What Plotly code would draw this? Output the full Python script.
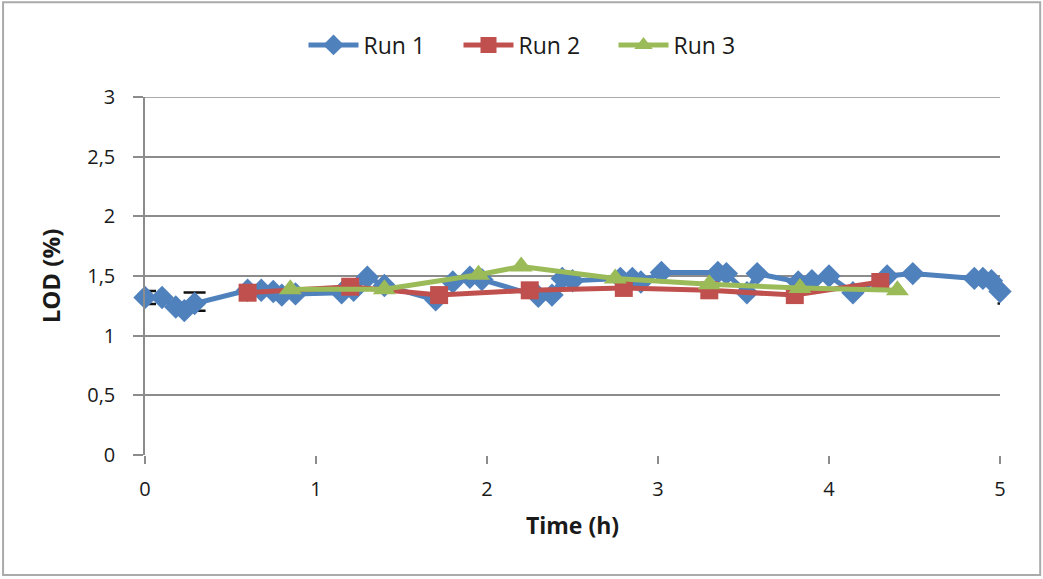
import plotly.graph_objects as go

# Data
run1_x = [0, 0.1, 0.18, 0.23, 0.29, 0.6, 0.68, 0.75, 0.8, 0.88, 1.15, 1.22, 1.3, 1.4,
          1.7, 1.8, 1.9, 1.97, 2.3, 2.38, 2.44, 2.5, 2.78, 2.85, 2.9, 3.02, 3.35, 3.4,
          3.52, 3.58, 3.82, 3.9, 4.0, 4.14, 4.34, 4.49, 4.85, 4.9, 4.95, 5.0]
run1_y = [1.32, 1.32, 1.24, 1.21, 1.27, 1.38, 1.38, 1.37, 1.34, 1.35, 1.36, 1.38, 1.49, 1.42,
          1.30, 1.45, 1.49, 1.47, 1.33, 1.34, 1.48, 1.46, 1.48, 1.48, 1.45, 1.53, 1.53, 1.52,
          1.36, 1.52, 1.45, 1.46, 1.50, 1.36, 1.50, 1.52, 1.48, 1.48, 1.46, 1.37]

run2_x = [0.6, 1.2, 1.72, 2.25, 2.8, 3.3, 3.8, 4.3]
run2_y = [1.36, 1.41, 1.34, 1.38, 1.40, 1.38, 1.34, 1.45]

run3_x = [0.85, 1.4, 1.95, 2.2, 2.75, 3.3, 3.83, 4.4]
run3_y = [1.39, 1.39, 1.51, 1.58, 1.48, 1.43, 1.40, 1.38]

# error bars visible on a few Run 1 points
err_x = [0, 0.29, 5.05]
err_y = [1.32, 1.285, 1.325]
err_v = [0.055, 0.077, 0.055]

y_tickvals = [0, 0.5, 1, 1.5, 2, 2.5, 3]
y_ticktext = ["0", "0,5", "1", "1,5", "2", "2,5", "3"]
x_tickvals = [0, 1, 2, 3, 4, 5]
x_ticktext = ["0", "1", "2", "3", "4", "5"]

BLUE = "#4F81BD"
RED = "#C0504D"
GREEN = "#9BBB59"
FONT = "Open Sans, Lato, sans-serif"

fig = go.Figure()
fig.add_trace(go.Scatter(
    x=err_x, y=err_y, mode="markers", showlegend=False, hoverinfo="skip",
    marker=dict(size=1, opacity=0), cliponaxis=False,
    error_y=dict(type="data", array=err_v, color="#111111", thickness=2.5, width=11),
))
fig.add_trace(go.Scatter(
    x=run1_x, y=run1_y, name="Run 1", mode="lines+markers", cliponaxis=False,
    line=dict(color=BLUE, width=5),
    marker=dict(symbol="diamond", size=18, color=BLUE),
))
fig.add_trace(go.Scatter(
    x=run2_x, y=run2_y, name="Run 2", mode="lines+markers", cliponaxis=False,
    line=dict(color=RED, width=5),
    marker=dict(symbol="square", size=18, color=RED),
))
fig.add_trace(go.Scatter(
    x=run3_x, y=run3_y, name="Run 3", mode="lines+markers", cliponaxis=False,
    line=dict(color=GREEN, width=5),
    marker=dict(symbol="triangle-up", size=20, color=GREEN),
))

fig.update_layout(
    width=1043, height=579,
    margin=dict(l=145, r=43, t=97, b=124, autoexpand=False),
    paper_bgcolor="white", plot_bgcolor="white",
    font=dict(family=FONT, size=20, color="#1a1a1a"),
    showlegend=True,
    legend=dict(orientation="h", xref="container", yref="container",
                x=536 / 1043, xanchor="center", y=1 - 45 / 579, yanchor="middle",
                bgcolor="rgba(0,0,0,0)",
                font=dict(size=23, color="#1a1a1a"), itemwidth=50,
                entrywidth=90, entrywidthmode="pixels",
                traceorder="normal"),
    xaxis=dict(range=[0, 5], tickvals=x_tickvals, ticktext=x_ticktext,
               showgrid=False, zeroline=False, showline=False, automargin=False,
               ticks="outside", ticklen=8, tickcolor="#8c8c8c", tickwidth=1.5,
               ticklabelstandoff=8,
               title=dict(text="<b>Time (h)</b>", font=dict(size=23), standoff=16)),
    yaxis=dict(range=[0, 3], tickvals=y_tickvals, ticktext=y_ticktext,
               showgrid=True, gridcolor="#8c8c8c", gridwidth=1.5, zeroline=False,
               showline=True, linecolor="#8c8c8c", linewidth=1.5, automargin=False,
               ticks="outside", ticklen=10, tickcolor="#8c8c8c", tickwidth=1.5,
               ticklabelstandoff=14,
               title=dict(text="<b>LOD (%)</b>", font=dict(size=24), standoff=20)),
    shapes=[
        dict(type="rect", xref="paper", yref="paper",
             x0=-0.166, x1=1.047, y0=-0.335, y1=1.265,
             line=dict(color="#aaaaaa", width=2), fillcolor="rgba(0,0,0,0)", layer="below"),
        dict(type="line", xref="paper", yref="y", x0=0, x1=1, y0=3, y1=3,
             line=dict(color="#8c8c8c", width=1.5), layer="below"),
    ],
)

fig.write_html("out.html", config={"displayModeBar": False},
               post_script="document.body.style.margin='0';")
